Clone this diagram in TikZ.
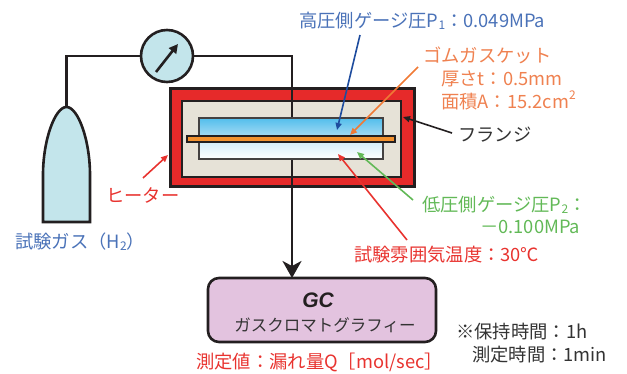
\documentclass[tikz,border=0pt]{standalone}
\usepackage{fontspec}
\setmainfont{Noto Sans CJK JP}
\newfontfamily\gcfont{Liberation Sans}
\usetikzlibrary{arrows.meta}

\definecolor{labelblue}{HTML}{4A72B8}
\definecolor{arrowblue}{HTML}{1E4C9E}
\definecolor{labelorange}{HTML}{EF8150}
\definecolor{arroworange}{HTML}{F07A35}
\definecolor{labelgreen}{HTML}{62B957}
\definecolor{labelred}{HTML}{E8332F}
\definecolor{heaterred}{HTML}{E62A2A}
\definecolor{flangegray}{HTML}{E6E2D7}
\definecolor{gasketcol}{HTML}{F3922F}
\definecolor{cyanfill}{HTML}{C3E5EB}
\definecolor{gcfill}{HTML}{E3C3DF}
\definecolor{inkdark}{HTML}{231F20}
\definecolor{textdark}{HTML}{333333}
\definecolor{hightop}{HTML}{52BEEC}
\definecolor{highbot}{HTML}{A9DCF4}
\definecolor{lowtop}{HTML}{D2ECF8}

\newcommand{\sub}[1]{\raisebox{-0.12em}{\fontsize{12}{12}\selectfont #1}}
\newcommand{\supr}[1]{\raisebox{0.5em}{\fontsize{12}{12}\selectfont #1}}

\tikzset{
  lbl/.style={inner sep=0pt, anchor=west, font=\fontsize{18.3}{21}\selectfont},
  pipe/.style={line width=2.6pt, draw=inkdark},
  pointer/.style={line width=1.6pt, -{Triangle[length=7pt,width=6pt]}},
  chamber/.style={line width=1.4pt, draw=inkdark!85},
}

\begin{document}
\begin{tikzpicture}[x=1pt,y=-1pt]
\useasboundingbox (0,0) rectangle (627,374);

% heater and flange housing
\draw[line width=3pt, draw=inkdark, fill=heaterred] (170,89) rectangle (414,187);
\draw[line width=2.8pt, draw=inkdark, fill=flangegray] (182,101) rectangle (401,177);

% pressure gauge, gas cylinder and GC unit
\node[circle, minimum size=52pt, inner sep=0pt, line width=2.6pt, draw=inkdark, fill=cyanfill] (gauge) at (167,56) {};
\draw[line width=2.6pt, fill=cyanfill, draw=inkdark]
  (43,222) -- (43,175) .. controls (43,140) and (55,107) .. (66.5,107)
  .. controls (78,107) and (90,140) .. (90,175) -- (90,222) -- cycle;
\coordinate (cyltop) at (66.5,107);
\node[rectangle, rounded corners=11pt, minimum width=228pt, minimum height=64pt,
      line width=2.6pt, draw=inkdark, fill=gcfill] (gc) at (322,310) {};
\coordinate (gcin) at (292,278);

% gauge needle
\draw[line width=2.6pt, draw=inkdark, -{Triangle[length=9pt,width=9pt]}] (156,72) -- (178,44);

% piping
\draw[pipe] (cyltop) |- (gauge.west);
\draw[pipe, -{Stealth[length=17pt,width=19pt,inset=5pt]}] (gauge.east) -| (gcin);

% test chambers and gasket
\shade[top color=hightop, bottom color=highbot] (199,118) rectangle (383,137);
\draw[chamber] (199,118) rectangle (383,137);
\shade[top color=lowtop, bottom color=white] (199,141) rectangle (383,159);
\draw[chamber] (199,141) rectangle (383,159);
\draw[line width=1.2pt, draw=inkdark, fill=gasketcol] (187,136) rectangle (395,142);

% labels
\node[lbl, text=labelblue] (p1) at (299,21) {高圧側ゲージ圧P\sub{1}：0.049MPa};
\node[lbl, text=labelorange] (gasket) at (423,55) {ゴムガスケット};
\node[lbl, text=labelorange] (thick) at (441,79) {厚さt：0.5mm};
\node[lbl, text=labelorange] (area) at (441,100) {面積A：15.2cm\supr{2}};
\node[lbl, text=textdark] (flange) at (458,135) {フランジ};
\node[lbl, text=labelgreen] (p2) at (422,205) {低圧側ゲージ圧P\sub{2}：};
\node[lbl, text=labelgreen] (p2val) at (480,227) {－0.100MPa};
\node[lbl, text=labelred] (temp) at (354,255) {試験雰囲気温度：30℃};
\node[lbl, text=labelred] (heater) at (106,195) {ヒーター};
\node[lbl, text=labelblue] (gas) at (15,242) {試験ガス（H\sub{2}）};
\node[lbl, text=labelred] (result) at (196,362) {測定値：漏れ量Q［mol/sec］};
\node[lbl, text=textdark] (note1) at (456,332) {※保持時間：1h};
\node[lbl, text=textdark] (note2) at (472,355) {測定時間：1min};
\node[inner sep=0pt, font=\gcfont\bfseries\itshape\fontsize{21}{24}\selectfont, text=inkdark] (gctitle) at (318,300) {GC};
\node[inner sep=0pt, font=\fontsize{16.5}{19}\selectfont, text=textdark] (gcsub) at (325,325) {ガスクロマトグラフィー};

% pointer arrows
\coordinate (p1s) at (360,35);   \coordinate (p1t) at (337,130);
\coordinate (gks) at (418,67);   \coordinate (gkt) at (350,135);
\coordinate (fls) at (452,133);  \coordinate (flt) at (403,117);
\coordinate (p2s) at (413,200);  \coordinate (p2t) at (357,152);
\coordinate (tps) at (407,240);  \coordinate (tpt) at (338,154);
\coordinate (hts) at (143,178);  \coordinate (htt) at (168,155);
\draw[pointer, arrowblue] (p1s) -- (p1t);
\draw[pointer, arroworange] (gks) -- (gkt);
\draw[pointer, inkdark] (fls) -- (flt);
\draw[pointer, labelgreen] (p2s) -- (p2t);
\draw[pointer, labelred] (tps) -- (tpt);
\draw[pointer, labelred] (hts) -- (htt);
\end{tikzpicture}
\end{document}
